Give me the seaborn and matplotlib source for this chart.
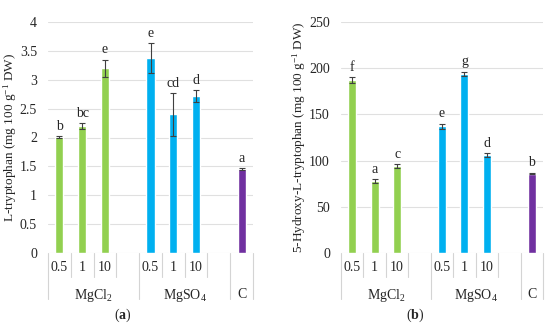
import numpy as np
import pandas as pd
import matplotlib
matplotlib.use('Agg')
import matplotlib.pyplot as plt
import seaborn as sns

# slots on the x axis (gaps between groups are empty slots)
slots = ['Cl 0.5', 'Cl 1', 'Cl 10', 'gap1', 'SO 0.5', 'SO 1', 'SO 10', 'gap2', 'C']
tick_labels = ['0.5', '1', '10', '', '0.5', '1', '10', '', '']
bar_slots = ['Cl 0.5', 'Cl 1', 'Cl 10', 'SO 0.5', 'SO 1', 'SO 10', 'C']
bar_groups = ['MgCl2', 'MgCl2', 'MgCl2', 'MgSO4', 'MgSO4', 'MgSO4', 'C']
group_names = [r'MgCl$_2$', r'MgSO$_4$', 'C']
group_spans = [(0, 4), (4, 8), (8, 9)]

# panel (a) L-tryptophan
trp = [2.01, 2.20, 3.20, 3.37, 2.40, 2.72, 1.45]
trp_err = [0.01, 0.05, 0.15, 0.26, 0.37, 0.10, 0.02]
trp_letters = ['b', 'bc', 'e', 'e', 'cd', 'd', 'a']

# panel (b) 5-Hydroxy-L-tryptophan
htp = [187, 78, 94, 137, 194, 106, 86]
htp_err = [3, 2, 2, 3, 2, 2, 1]
htp_letters = ['f', 'a', 'c', 'e', 'g', 'd', 'b']

colors = {'MgCl2': '#92D050', 'MgSO4': '#00B0F0', 'C': '#7030A0'}

sns.set_style('white')
plt.rcParams['font.family'] = ['Liberation Serif', 'DejaVu Serif']
plt.rcParams['mathtext.fontset'] = 'custom'
plt.rcParams['mathtext.rm'] = 'Liberation Serif'
plt.rcParams['mathtext.bf'] = 'Liberation Serif:bold'
plt.rcParams['mathtext.it'] = 'Liberation Serif:italic'

fig = plt.figure(figsize=(5.5, 3.26), dpi=100)
ax1 = fig.add_axes([48 / 550, 73 / 326, 205 / 550, 231 / 326])
ax2 = fig.add_axes([341 / 550, 73 / 326, 202 / 550, 231 / 326])

grid_c = '#e0e0e0'
sep_c = '#d4d4d4'
fs = 10


def draw_panel(ax, vals, errs, letters, ylim, yticks, ylabel, label_x,
               caption, cap_x):
    df = pd.DataFrame({'slot': bar_slots, 'value': vals, 'group': bar_groups})
    sns.barplot(data=df, x='slot', y='value', hue='group', order=slots,
                palette=colors, dodge=False, width=0.36, legend=False,
                saturation=1, errorbar=None, ax=ax, zorder=3)
    xs = [slots.index(s) for s in bar_slots]
    ax.errorbar(xs, vals, yerr=errs, fmt='none', ecolor='#404040',
                elinewidth=0.8, capsize=2.5, capthick=0.8, zorder=4)
    off = (ylim[1] - ylim[0]) * 0.015
    for x, v, e, t in zip(xs, vals, errs, letters):
        ax.text(x, v + e + off, t, ha='center', va='bottom', fontsize=fs)
    ax.set_xlim(-0.5, len(slots) - 0.5)
    ax.set_ylim(*ylim)
    ax.set_yticks(yticks)
    ax.set_yticklabels([f'{t:g}' for t in yticks], fontsize=fs)
    ax.tick_params(axis='y', length=0, pad=8)
    ax.grid(axis='y', color=grid_c, linewidth=0.8, zorder=0)
    ax.set_axisbelow(True)
    for sp in ax.spines.values():
        sp.set_visible(False)
    ax.set_xticks(range(len(slots)))
    ax.set_xticklabels(tick_labels, fontsize=fs)
    ax.tick_params(axis='x', length=0, pad=6)
    ax.set_xlabel('')
    ax.set_ylabel(ylabel, fontsize=9.5)
    ax.yaxis.set_label_coords(label_x, 0.5)
    trans = ax.get_xaxis_transform()
    # inner separators (first label row)
    for b in [1, 2, 3, 5, 6, 7]:
        ax.plot([b - 0.5, b - 0.5], [0, -24 / 231], color=sep_c, lw=0.8,
                transform=trans, clip_on=False)
    # group separators
    for b in [0, 4, 8, 9]:
        ax.plot([b - 0.5, b - 0.5], [0, -46 / 231], color=sep_c, lw=0.8,
                transform=trans, clip_on=False)
    for name, (a, b) in zip(group_names, group_spans):
        ax.text((a + b - 1) / 2, -42 / 231, name, transform=trans,
                ha='center', va='center', fontsize=fs)
    fig.text(cap_x, 11 / 326, caption, ha='center', va='center', fontsize=fs)


draw_panel(ax1, trp, trp_err, trp_letters, (0, 4), np.arange(0, 4.01, 0.5),
           r'L-tryptophan (mg 100 g$^{-1}$ DW)', -0.14,
           r'($\mathbf{a}$)', 123 / 550)
draw_panel(ax2, htp, htp_err, htp_letters, (0, 250), np.arange(0, 251, 50),
           r'5-Hydroxy-L-tryptophan (mg 100 g$^{-1}$ DW)', -0.165,
           r'($\mathbf{b}$)', 415 / 550)

fig.savefig('out.png', dpi=100)
